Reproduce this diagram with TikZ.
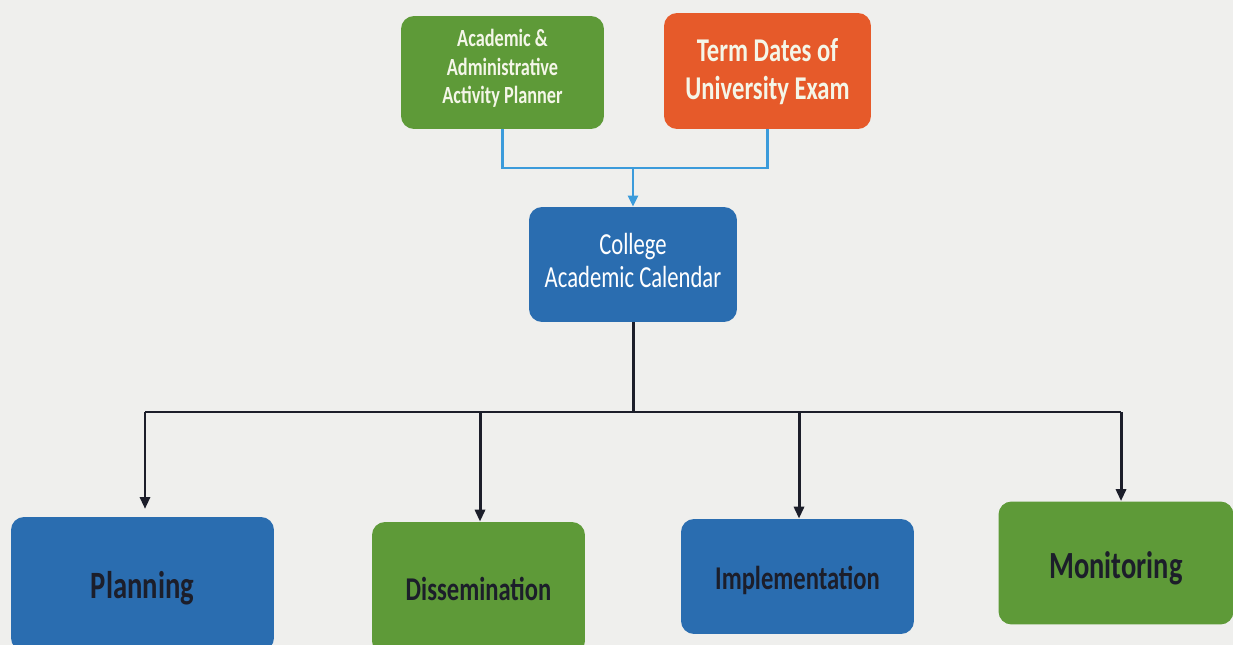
\documentclass[tikz,border=0pt]{standalone}
\usepackage{fontspec}
\setmainfont{Carlito}
\usepackage{graphicx}
\usetikzlibrary{arrows.meta}
\definecolor{bg}{HTML}{EFEFED}
\definecolor{gbox}{HTML}{5E9A38}
\definecolor{obox}{HTML}{E65A2A}
\definecolor{bbox}{HTML}{2A6DB0}
\definecolor{lblue}{HTML}{3B9BDB}
\definecolor{ink}{HTML}{1C1E2A}
\definecolor{pale}{HTML}{F4F6E8}
\newcommand{\tallt}[2]{\raisebox{#1}[\height][\depth]{\scalebox{1}[1.35]{\begin{tabular}{@{}c@{}}#2\end{tabular}}}}
\tikzset{
  boxstyle/.style={rounded corners=2.6mm, inner sep=0pt, align=center},
  topline/.style={lblue, line width=1.3pt},
  botline/.style={ink, line width=1.7pt},
}
\begin{document}
\begin{tikzpicture}[x=0.02cm,y=-0.02cm]
\useasboundingbox (0,0) rectangle (1233,645);
\clip (0,0) rectangle (1233,645);
\fill[bg] (0,0) rectangle (1233,645);
% top boxes
\node[boxstyle, fill=gbox, minimum width=4.06cm, minimum height=2.26cm, text=pale,
  font=\bfseries\fontsize{10.4}{12}\selectfont] (aap) at (502.5,72.5)
  {\tallt{0.06cm}{Academic \&\\Administrative\\Activity Planner}};
\node[boxstyle, fill=obox, minimum width=4.14cm, minimum height=2.32cm, text=pale,
  font=\bfseries\fontsize{14}{16}\selectfont] (term) at (767.5,71)
  {\tallt{-0.04cm}{Term Dates of\\University Exam}};
\node[boxstyle, fill=bbox, minimum width=4.16cm, minimum height=2.3cm, text=white,
  font=\fontsize{12.9}{13.9}\selectfont] (cal) at (633,264.5)
  {\tallt{0cm}{College\\Academic Calendar}};
% bottom boxes
\node[boxstyle, fill=bbox, minimum width=5.26cm, minimum height=2.68cm, text=ink,
  font=\bfseries\fontsize{16.3}{18}\selectfont] (plan) at (142.5,584)
  {\tallt{-0.12cm}{Planning}};
\node[boxstyle, fill=gbox, minimum width=4.26cm, minimum height=2.64cm, text=ink,
  font=\bfseries\fontsize{14}{16}\selectfont] (diss) at (478.5,588)
  {\tallt{-0.1cm}{Dissemination}};
\node[boxstyle, fill=bbox, minimum width=4.66cm, minimum height=2.3cm, text=ink,
  font=\bfseries\fontsize{14}{16}\selectfont] (impl) at (797.5,576.5)
  {\tallt{-0.1cm}{Implementation}};
\node[boxstyle, fill=gbox, minimum width=4.7cm, minimum height=2.46cm, text=ink,
  font=\bfseries\fontsize{16.2}{18}\selectfont] (mon) at (1116,563)
  {\tallt{-0.14cm}{Monitoring}};
% top connectors
\coordinate (tj) at (633,168);
\draw[topline] (aap.south) |- (tj);
\draw[topline] (term.south) |- (tj);
\draw[topline, -{Triangle[length=2.2mm,width=2mm]}] (tj) -- (cal.north);
% bottom connectors
\coordinate (bj) at (633,412);
\draw[botline] (cal.south) -- (bj);
\coordinate (bl) at (145,412);
\coordinate (br) at (1121,412);
\draw[botline] (bl) -- (br);
\tikzset{arr/.style={botline, -{Triangle[length=2.4mm,width=2mm]}}}
\draw[arr] (bl) -- (145,509) coordinate (pe);
\draw[arr] (480,412) -- (diss.north -| 480,0);
\draw[arr] (799,412) -- (impl.north -| 799,0);
\draw[arr] (br) -- (mon.north -| br);
\end{tikzpicture}
\end{document}
